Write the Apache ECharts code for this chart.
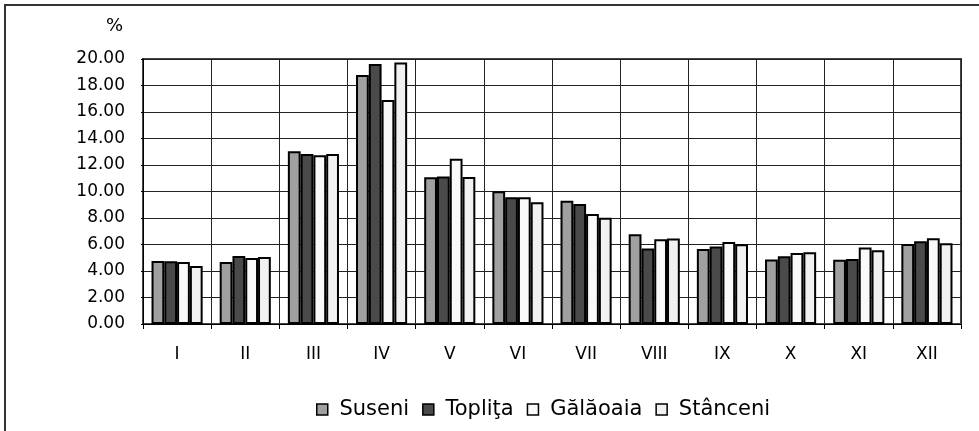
<!DOCTYPE html>
<html>
<head>
<meta charset="utf-8">
<script src="https://cdn.jsdelivr.net/npm/echarts@6/dist/echarts.min.js"></script>
<style>html,body{margin:0;padding:0;background:#fff;}#c{width:979px;height:431px;}</style>
</head>
<body>
<div id="c"></div>
<script>
var categories = ['I','II','III','IV','V','VI','VII','VIII','IX','X','XI','XII'];
var seriesNames = ['Suseni','Topliţa','Gălăoaia','Stânceni'];
var suseni   = [4.76, 4.68, 13.03, 18.79, 11.08, 10.02, 9.31, 6.77, 5.66, 4.86, 4.84, 6.04];
var toplita  = [4.73, 5.14, 12.83, 19.63, 11.13, 9.56, 9.06, 5.69, 5.84, 5.11, 4.91, 6.24];
var galaoaia = [4.68, 4.98, 12.73, 16.91, 12.48, 9.56, 8.31, 6.40, 6.19, 5.36, 5.77, 6.47];
var stanceni = [4.38, 5.06, 12.83, 19.73, 11.10, 9.18, 8.01, 6.45, 6.02, 5.41, 5.56, 6.09];
var yTicks = { min: 0, max: 20, interval: 2 };
var colors = ['#a0a0a0', '#4a4a4a', '#f9f9f9', '#f1f1f1'];

var font = 'DejaVu Sans';
var data = [suseni, toplita, galaoaia, stanceni];
var chart = echarts.init(document.getElementById('c'), null, { renderer: 'canvas' });
chart.setOption({
  backgroundColor: '#fff',
  animation: false,
  color: colors,
  graphic: [{
    type: 'rect', shape: { x: 5, y: 5, width: 1100, height: 1000 },
    style: { fill: 'none', stroke: '#333', lineWidth: 2 }, silent: true
  }],
  grid: { left: 143, right: 18, top: 59, bottom: 107, show: true, borderColor: '#444', borderWidth: 2, backgroundColor: 'transparent' },
  legend: {
    data: seriesNames,
    bottom: 6,
    left: 311,
    itemWidth: 11, itemHeight: 11, itemGap: 13,
    icon: 'rect',
    itemStyle: { borderColor: '#000', borderWidth: 1.5 },
    formatter: function (n) { return ' ' + n; },
    textStyle: { fontFamily: font, fontSize: 21, color: '#000' }
  },
  xAxis: {
    type: 'category',
    data: categories,
    boundaryGap: true,
    axisLine: { lineStyle: { color: '#000', width: 1 } },
    axisTick: { show: true, length: 5, inside: false, lineStyle: { color: '#000' } },
    splitLine: { show: true, lineStyle: { color: '#222', width: 1 } },
    axisLabel: { fontFamily: font, fontSize: 17, color: '#000', margin: 22 }
  },
  yAxis: {
    type: 'value',
    min: yTicks.min, max: yTicks.max, interval: yTicks.interval,
    name: '%',
    nameLocation: 'end',
    nameGap: 24,
    nameTextStyle: { fontFamily: font, fontSize: 18, color: '#000', align: 'right', padding: [0, 20, 0, 0] },
    axisLine: { show: true, lineStyle: { color: '#000', width: 1 } },
    axisTick: { show: true, length: 2, lineStyle: { color: '#000' } },
    splitLine: { show: true, lineStyle: { color: '#222', width: 1 } },
    axisLabel: { fontFamily: font, fontSize: 17, color: '#000', margin: 18, formatter: function (v) { return v.toFixed(2); } }
  },
  series: seriesNames.map(function (n, i) {
    return {
      name: n, type: 'bar', data: data[i],
      barGap: '0%', barCategoryGap: '25%',
      itemStyle: { color: colors[i], borderColor: '#000', borderWidth: 2 }
    };
  })
});
</script>
</body>
</html>
